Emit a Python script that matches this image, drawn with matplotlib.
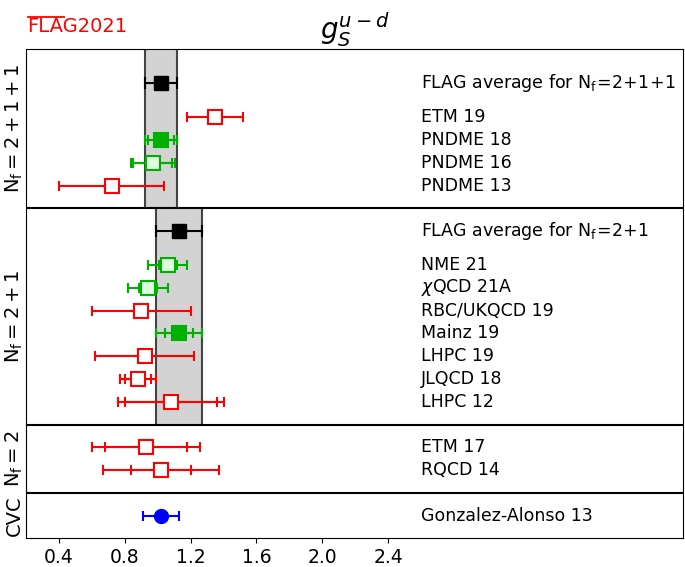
import numpy as np
import matplotlib.pyplot as plt
from matplotlib.lines import Line2D

# g_S^{u-d} results, each panel listed top to bottom
nf211_names = ['ETM 19', 'PNDME 18', 'PNDME 16', 'PNDME 13']
nf211_vals = [1.35, 1.02, 0.97, 0.72]
nf211_stat = [0.17, 0.08, 0.12, 0.32]
nf211_tot = [0.17, 0.10, 0.135, 0.32]
nf211_kind = ['red', 'green_full', 'green', 'red']
nf211_avg = (1.02, 0.10)

nf21_names = ['NME 21', r'$\chi$QCD 21A', 'RBC/UKQCD 19', 'Mainz 19',
              'LHPC 19', 'JLQCD 18', 'LHPC 12']
nf21_vals = [1.06, 0.94, 0.90, 1.13, 0.92, 0.88, 1.08]
nf21_stat = [0.055, 0.055, 0.30, 0.085, 0.30, 0.08, 0.28]
nf21_tot = [0.12, 0.12, 0.30, 0.14, 0.30, 0.11, 0.32]
nf21_kind = ['green', 'green', 'red', 'green_full', 'red', 'red', 'red']
nf21_avg = (1.13, 0.14)

nf2_names = ['ETM 17', 'RQCD 14']
nf2_vals = [0.93, 1.02]
nf2_stat = [0.25, 0.18]
nf2_tot = [0.33, 0.35]
nf2_kind = ['red', 'red']

cvc_names = ['Gonzalez-Alonso 13']
cvc_vals = [1.02]
cvc_stat = [0.11]
cvc_tot = [0.11]
cvc_kind = ['blue']

panel_labels = [r'$\mathrm{N_f=2+1+1}$', r'$\mathrm{N_f=2+1}$', r'$\mathrm{N_f=2}$', 'CVC']
avg_labels = [r'$\mathrm{N_f\!=\!2\!+\!1\!+\!1}$', r'$\mathrm{N_f\!=\!2\!+\!1}$']

styles = {
    'red': dict(color='red', face='white', marker='s'),
    'green': dict(color='#00b000', face='#ddffdd', marker='s'),
    'green_full': dict(color='#00b000', face='#00b000', marker='s'),
    'blue': dict(color='blue', face='blue', marker='o'),
}

panels = [
    (nf211_names, nf211_vals, nf211_stat, nf211_tot, nf211_kind, nf211_avg, 0),
    (nf21_names, nf21_vals, nf21_stat, nf21_tot, nf21_kind, nf21_avg, 1),
    (nf2_names, nf2_vals, nf2_stat, nf2_tot, nf2_kind, None, 2),
    (cvc_names, cvc_vals, cvc_stat, cvc_tot, cvc_kind, None, 3),
]

fig = plt.figure(figsize=(6.85, 5.67), dpi=100)
ax = fig.add_axes([0.038, 0.0506, 0.9586, 0.863])

xtext = 2.6
y = 0.0
bounds = []
for names, vals, stat, tot, kind, avg, ip in panels[::-1]:
    ybot = y
    y += 1
    for n, v, s, t, k in list(zip(names, vals, stat, tot, kind))[::-1]:
        st = styles[k]
        ax.errorbar(v, y, xerr=t, fmt='none', ecolor=st['color'], elinewidth=1.5,
                    capsize=3.5, capthick=1.5, zorder=3)
        if s != t:
            ax.errorbar(v, y, xerr=s, fmt='none', ecolor=st['color'], elinewidth=1.5,
                        capsize=3.5, capthick=1.5, zorder=3)
        ax.plot(v, y, marker=st['marker'], ms=9.5, mfc=st['face'], mec=st['color'],
                mew=1.5, ls='none', zorder=4)
        ax.text(xtext, y, n, fontsize=12.5, va='center', ha='left')
        y += 1
    ytop = y
    if avg is not None:
        ya = y + 0.5
        ax.errorbar(avg[0], ya, xerr=avg[1], fmt='none', ecolor='black',
                    elinewidth=1.5, capsize=4.5, capthick=1.5, zorder=3)
        ax.plot(avg[0], ya, marker='s', ms=10, color='black', ls='none', zorder=4)
        ax.text(xtext, ya, 'FLAG average for ' + avg_labels[ip], fontsize=12.5,
                va='center', ha='left')
        ytop = ya + 1
    bounds.append((ybot, ytop, avg, ip))
    y = ytop

ymax = y + 0.5
for i, (ybot, ytop, avg, ip) in enumerate(bounds):
    last = i == len(bounds) - 1
    top = ymax if last else ytop
    if not last:
        ax.axhline(ytop, color='black', lw=1.5, zorder=2)
    if avg is not None:
        ax.fill_betweenx([ybot, top], avg[0] - avg[1], avg[0] + avg[1],
                         color='lightgray', zorder=0, lw=0)
        ax.vlines([avg[0] - avg[1], avg[0] + avg[1]], ybot, top,
                  color='#444444', lw=1.5, zorder=1)
    ax.text(-0.0185, (ybot + top) / 2, panel_labels[ip], transform=ax.get_yaxis_transform(),
            rotation=90, fontsize=14, ha='center', va='center')

ax.set_ylim(0, ymax)
ax.set_xlim(0.2, 4.19)
ticks = np.arange(0.4, 2.41, 0.4)
ax.set_xticks(ticks)
ax.set_xticklabels(['%.1f' % t for t in ticks])
ax.tick_params(axis='x', labelsize=13.5)
ax.set_yticks([])
ax.set_title(r'$g_S^{u-d}$', fontsize=20, pad=6)

# FLAG logo: bar over "FLA"
fig.text(27 / 685, 1 - 32 / 567, 'FLAG2021', color='red', fontsize=14,
         va='baseline', ha='left')
fig.add_artist(Line2D([27.5 / 685, 64 / 685], [1 - 16.5 / 567, 1 - 16.5 / 567],
                      color='red', lw=1.3, transform=fig.transFigure))

fig.savefig('out.png', dpi=100)
